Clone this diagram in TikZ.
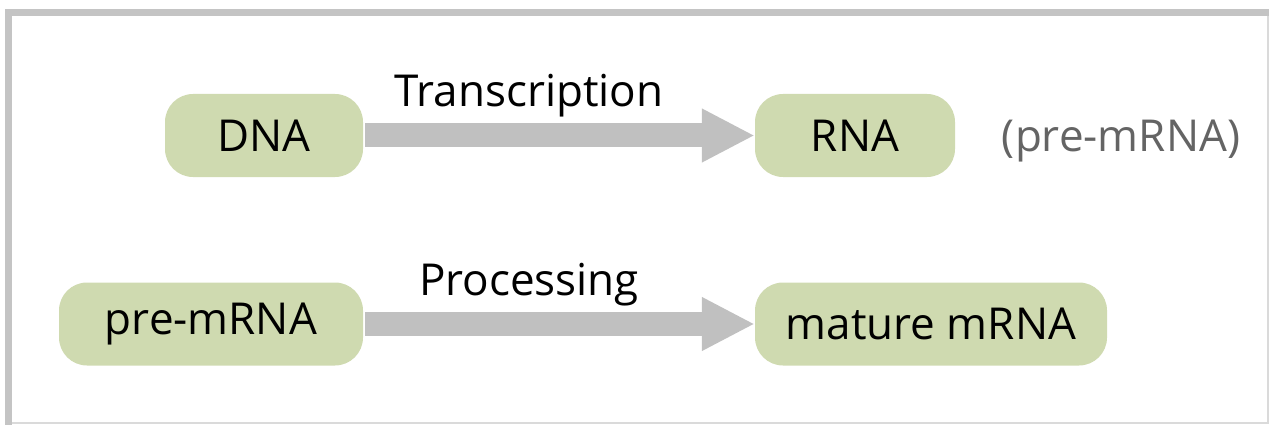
\documentclass[tikz,border=0pt]{standalone}
\usepackage{fontspec}
\setmainfont{Open Sans}
\usepackage{tikz}
\usetikzlibrary{arrows.meta}
\usepackage{xcolor}

\definecolor{boxgreen}{RGB}{207,218,176}
\definecolor{arrowgray}{RGB}{192,192,192}
\definecolor{framegray}{RGB}{196,196,196}
\definecolor{edgegray}{RGB}{218,218,218}
\definecolor{notegray}{RGB}{100,100,100}

\tikzset{
  molecule/.style={fill=boxgreen, rounded corners=28pt, minimum height=83pt,
    inner sep=0pt, font=\fontsize{44}{50}\selectfont},
  steplabel/.style={anchor=base, font=\fontsize{44}{50}\selectfont},
  bigarrow/.style={draw=arrowgray, line width=24pt, shorten <=2pt,
    -{Triangle[width=50pt,length=53pt]}}
}

\begin{document}
\begin{tikzpicture}[x=1pt,y=-1pt]
    \useasboundingbox (0,0) rectangle (1269,425);
    % Rahmen
    \draw[edgegray, line width=1.5pt] (12,423) -- (1268,423) -- (1268,16);
    \fill[framegray] (5,9) rectangle (1269,16);
    \fill[framegray] (5,9) rectangle (12,425);
    % Transkription
    \node[molecule, minimum width=198pt] (dna) at (264,135.5) {DNA};
    \node[molecule, minimum width=200pt] (rna) at (855,135.5) {RNA};
    \node[text=notegray, font=\fontsize{44}{50}\selectfont, anchor=base] (pre) at (1121,152) {(pre-mRNA)};
    \draw[bigarrow] (dna) -- (rna);
    \node[steplabel] (trans) at (529,107) {Transcription};
    % Prozessierung
    \node[molecule, minimum width=304pt] (premrna) at (211,324) {pre-mRNA};
    \node[molecule, minimum width=352pt] (mrna) at (931,324) {mature mRNA};
    \draw[bigarrow] (premrna) -- (mrna);
    \node[steplabel] (proc) at (529,295) {Processing};
\end{tikzpicture}
\end{document}
